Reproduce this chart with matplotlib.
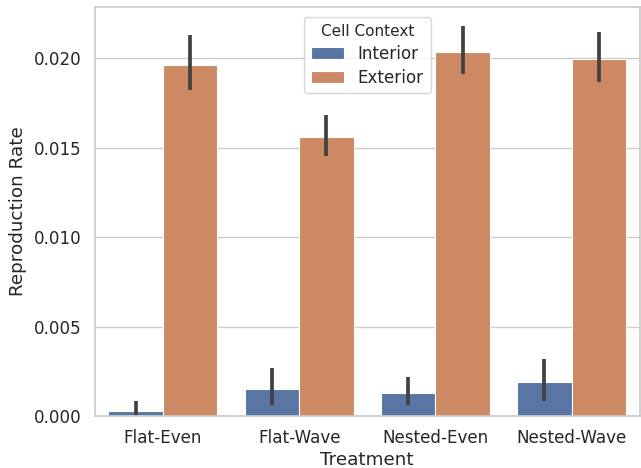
import numpy as np
import matplotlib
matplotlib.use("Agg")
import matplotlib.pyplot as plt
import seaborn as sns

# values (bar heights and CI bounds)
treatments = ['Flat-Even', 'Flat-Wave', 'Nested-Even', 'Nested-Wave']
contexts = ['Interior', 'Exterior']
interior_mean = [0.00030, 0.00151, 0.00128, 0.00188]
interior_low = [0.00006, 0.00061, 0.00061, 0.00085]
interior_high = [0.00084, 0.00270, 0.00218, 0.00317]
exterior_mean = [0.01960, 0.01557, 0.02035, 0.01993]
exterior_low = [0.01821, 0.01454, 0.01910, 0.01868]
exterior_high = [0.02128, 0.01682, 0.02180, 0.02144]

sns.set_theme(style='whitegrid', font_scale=1.1)
plt.rcParams['font.family'] = ['DejaVu Sans']
pal = [sns.desaturate(c, 0.75) for c in sns.color_palette('deep', 2)]

fig = plt.figure(figsize=(6.41, 4.68), dpi=100)
ax = fig.add_axes([0.148, 0.111, 0.850, 0.874])

x = np.arange(len(treatments))
w = 0.4
series = [(interior_mean, interior_low, interior_high), (exterior_mean, exterior_low, exterior_high)]
for i, (m, lo, hi) in enumerate(series):
    pos = x - w / 2 + i * w
    ax.bar(pos, m, width=w, color=pal[i], edgecolor='white', linewidth=0.8, label=contexts[i])
    ax.vlines(pos, lo, hi, color='.26', linewidth=2.7)

ax.set_xticks(x)
ax.set_xticklabels(treatments)
ax.set_xlim(-0.5, 3.5)
ax.set_ylim(0, 0.02285)
ax.set_yticks([0, 0.005, 0.010, 0.015, 0.020])
ax.set_yticklabels(['0.000', '0.005', '0.010', '0.015', '0.020'])
ax.grid(axis='x', visible=False)
ax.set_xlabel('Treatment', labelpad=3)
ax.set_ylabel('Reproduction Rate', labelpad=5)
leg = ax.legend(title='Cell Context', loc='upper center', fontsize=12.1,
                labelspacing=0.35, borderaxespad=0.6)
leg.get_title().set_fontsize(11)

fig.savefig('out.png', dpi=100)
